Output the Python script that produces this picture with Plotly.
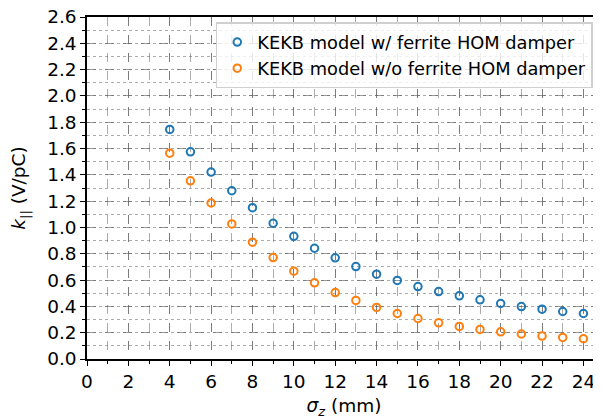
import plotly.graph_objects as go

sigma_z = [4, 5, 6, 7, 8, 9, 10, 11, 12, 13, 14, 15, 16, 17, 18, 19, 20, 21, 22, 23, 24, 25]
k_with_ferrite = [1.745, 1.575, 1.421, 1.279, 1.150, 1.032, 0.933, 0.842, 0.769, 0.703, 0.645,
                  0.597, 0.551, 0.513, 0.480, 0.450, 0.422, 0.399, 0.379, 0.361, 0.346, 0.329]
k_without_ferrite = [1.565, 1.355, 1.186, 1.027, 0.888, 0.771, 0.668, 0.579, 0.505, 0.445, 0.392,
                     0.346, 0.308, 0.275, 0.248, 0.225, 0.207, 0.190, 0.174, 0.164, 0.154, 0.146]
x_ticks = list(range(0, 25, 2))
y_ticks = [round(0.2 * i, 1) for i in range(14)]

FONT = "DejaVu Sans"
FS = 18.5
fig = go.Figure()
fig.add_trace(go.Scatter(
    x=sigma_z, y=k_with_ferrite, mode="markers", cliponaxis=False,
    name="KEKB model w/ ferrite HOM damper",
    marker=dict(symbol="circle-open", size=7.5, color="#1f77b4", line=dict(width=2, color="#1f77b4")),
))
fig.add_trace(go.Scatter(
    x=sigma_z, y=k_without_ferrite, mode="markers", cliponaxis=False,
    name="KEKB model w/o ferrite HOM damper",
    marker=dict(symbol="circle-open", size=7.5, color="#ff7f0e", line=dict(width=2, color="#ff7f0e")),
))

grid_col = "rgba(90,90,90,0.6)"
minor_col = "rgba(90,90,90,0.5)"
fig.update_layout(
    width=593, height=411,
    margin=dict(l=79, r=0, t=9, b=60),
    paper_bgcolor="white", plot_bgcolor="white",
    font=dict(family=FONT, size=FS, color="black"),
    showlegend=True,
    legend=dict(
        x=0.984, y=0.984, xanchor="right", yanchor="top",
        bgcolor="rgba(255,255,255,0.8)", bordercolor="#d0d0d0", borderwidth=1.5,
        font=dict(family=FONT, size=17.8, color="black"),
        itemwidth=30, tracegroupgap=0,
    ),
    xaxis=dict(
        range=[0, 24.85], tickmode="array", tickvals=x_ticks, automargin=False,
        ticks="outside", ticklen=5, tickwidth=1.3, tickcolor="black",
        ticklabeloverflow="allow",
        showline=True, linecolor="black", linewidth=1.5, mirror=True,
        showgrid=True, gridcolor=grid_col, griddash="dash", gridwidth=1,
        zeroline=False,
        minor=dict(dtick=1, ticks="outside", ticklen=3, tickcolor="black",
                   showgrid=True, gridcolor=minor_col, griddash="dash", gridwidth=0.8),
        title=dict(text="<i>σ<sub>z</sub></i> (mm)", font=dict(family=FONT, size=FS), standoff=9),
        tickfont=dict(family=FONT, size=FS),
    ),
    yaxis=dict(
        range=[0, 2.6], tickmode="array", tickvals=y_ticks, automargin=False,
        ticktext=[f"{v:.1f}" for v in y_ticks],
        ticks="outside", ticklen=5, tickwidth=1.3, tickcolor="black",
        ticklabeloverflow="allow",
        showline=True, linecolor="black", linewidth=1.5,
        showgrid=True, gridcolor=grid_col, griddash="dash", gridwidth=1,
        zeroline=False,
        minor=dict(dtick=0.1, ticks="outside", ticklen=3, tickcolor="black",
                   showgrid=True, gridcolor=minor_col, griddash="dot", gridwidth=0.8),
        title=dict(text="<i>k</i><sub>||</sub> (V/pC)", font=dict(family=FONT, size=FS), standoff=19),
        tickfont=dict(family=FONT, size=FS),
    ),
)

fig.write_html("out.html")
